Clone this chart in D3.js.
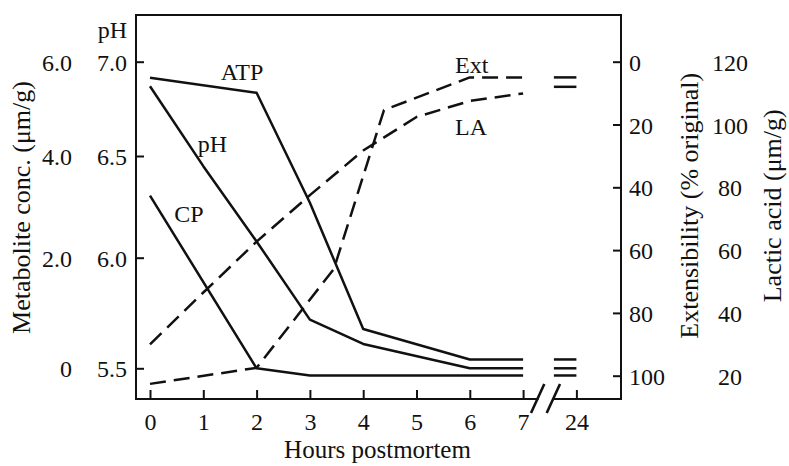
<!DOCTYPE html>
<html>
<head>
<meta charset="utf-8">
<script src="https://cdn.jsdelivr.net/npm/d3@7"></script>
<style>
    body { margin: 0; background: #fff; }
    svg text { font-family: "Liberation Serif", "DejaVu Serif", serif; fill: #111; }
</style>
</head>
<body>
<svg id="chart" width="789" height="466"></svg>
<script>
/*
    Postmortem changes in muscle: metabolites, pH, extensibility, lactic acid
 */

// x axis: 0..7 hours, then a break and 24
const hourTicks = [0, 1, 2, 3, 4, 5, 6, 7, 24];

const phTicks = [5.5, 6.0, 6.5, 7.0];
const metTicks = [0, 2, 4, 6];
const extTicks = [0, 20, 40, 60, 80, 100];
const laTicks = [20, 40, 60, 80, 100, 120];

// [hour, value]
const atp = [[0, 5.66], [2, 5.34], [3, 3.08], [4, 0.71], [6, 0.16], [7, 0.16], [24, 0.16]];
const ph = [[0, 6.87], [1, 6.45], [2, 6.08], [3, 5.72], [4, 5.61], [6, 5.50], [7, 5.50], [24, 5.50]];
const cp = [[0, 3.22], [2, 0.0], [3, -0.13], [7, -0.13], [24, -0.13]];
const ext = [[0, 102.6], [2, 97.5], [3.45, 66], [4.39, 15.4], [6, 5.0], [7, 5.0], [24, 5.0]];
const la = [[0, 30.0], [1, 46.5], [2, 62.7], [3, 77.5], [4, 91.7], [5, 102.4], [6, 107.5], [7, 109.9], [24, 112.0]];

const svg = d3.select("#chart");
const frame = {left: 136, right: 621, top: 15, bottom: 399};

// 24 h is drawn one step after 7
let x = d3.scaleLinear().domain([0, 8]).range([150, 576.4]);
let xPos = (h) => h > 7 ? x(8) : x(h);

// the left axis of the original is not evenly spaced, so keep its tick positions
let tickRows = [368.3, 257.7, 156, 61.7];
let phY = d3.scaleLinear().domain(phTicks).range(tickRows);
let metY = d3.scaleLinear().domain(metTicks).range(tickRows);
let extY = d3.scaleLinear().domain([0, 100]).range([61.7, 375.7]);
let laY = d3.scaleLinear().domain([20, 120]).range([375.7, 61.7]);

function styleAxis(g, size) {
    g.select(".domain").remove();
    g.selectAll("line").attr("stroke", "#111").attr("stroke-width", 2);
    g.selectAll("text").attr("font-size", size).attr("fill", "#111")
        .style("font-family", "'Liberation Serif', serif");
}

// left: pH with inward ticks, metabolite labels further out
svg.append("g").attr("transform", `translate(${frame.left},0)`)
    .call(d3.axisLeft(phY).tickValues(phTicks).tickSizeInner(-8).tickSizeOuter(0)
        .tickPadding(9).tickFormat(d3.format(".1f")))
    .call(g => styleAxis(g, 24))
    .selectAll("text").attr("dy", "0.36em");

svg.append("g").attr("transform", `translate(${frame.left},0)`)
    .call(d3.axisLeft(metY).tickValues(metTicks).tickSize(0).tickPadding(64)
        .tickFormat(d => d === 0 ? "0" : d3.format(".1f")(d)))
    .call(g => styleAxis(g, 24))
    .selectAll("text").attr("dy", "0.36em");

// right: extensibility with inward ticks, lactic acid further out
svg.append("g").attr("transform", `translate(${frame.right},0)`)
    .call(d3.axisRight(extY).tickValues(extTicks).tickSizeInner(-8).tickSizeOuter(0).tickPadding(8))
    .call(g => styleAxis(g, 24))
    .selectAll("text").attr("dy", "0.36em");

svg.append("g").attr("transform", `translate(${frame.right},0)`)
    .call(d3.axisRight(laY).tickValues(laTicks).tickSize(0).tickPadding(109))
    .call(g => styleAxis(g, 24))
    .selectAll("text").attr("dy", "0.36em").attr("text-anchor", "middle");

// bottom
svg.append("g").attr("transform", `translate(0,${frame.bottom})`)
    .call(d3.axisBottom(x).tickValues(d3.range(hourTicks.length)).tickSizeInner(-9).tickSizeOuter(0)
        .tickPadding(14).tickFormat((d, i) => hourTicks[i]))
    .call(g => styleAxis(g, 24));

// frame box
svg.append("rect")
    .attr("x", frame.left).attr("y", frame.top)
    .attr("width", frame.right - frame.left).attr("height", frame.bottom - frame.top)
    .attr("fill", "none").attr("stroke", "#111").attr("stroke-width", 2);

// axis break between 7 and 24
svg.append("line")
    .attr("x1", 538.5).attr("x2", 552.5).attr("y1", frame.bottom).attr("y2", frame.bottom)
    .attr("stroke", "#fff").attr("stroke-width", 4);
[531, 546.7].forEach((bx) => {
    svg.append("line")
        .attr("x1", bx).attr("y1", 413).attr("x2", bx + 13.3).attr("y2", 384)
        .attr("stroke", "#111").attr("stroke-width", 2.6);
});

function drawSeries(data, yScale, dashed) {
    let line = d3.line().x(d => xPos(d[0])).y(d => yScale(d[1]));
    let early = data.filter(d => d[0] <= 7);
    svg.append("path").datum(early)
        .attr("d", line)
        .attr("fill", "none").attr("stroke", "#111").attr("stroke-width", 2.5)
        .attr("stroke-linejoin", "round")
        .attr("stroke-dasharray", dashed ? "16,8" : null);
    // short mark at 24 h
    let last = data.find(d => d[0] === 24);
    svg.append("line")
        .attr("x1", xPos(24) - 22.5).attr("x2", xPos(24))
        .attr("y1", yScale(last[1])).attr("y2", yScale(last[1]))
        .attr("stroke", "#111").attr("stroke-width", 2.5);
}

drawSeries(atp, metY, false);
drawSeries(ph, phY, false);
drawSeries(cp, metY, false);
drawSeries(ext, extY, true);
drawSeries(la, laY, true);

// series labels
let labels = [
    {text: "ATP", x: 242, y: 80, anchor: "middle"},
    {text: "pH", x: 212.5, y: 152, anchor: "middle"},
    {text: "CP", x: 189, y: 221.5, anchor: "middle"},
    {text: "Ext", x: 455, y: 73, anchor: "start"},
    {text: "LA", x: 455, y: 135, anchor: "start"}
];
svg.selectAll(".series-label").data(labels).enter().append("text")
    .attr("class", "series-label")
    .attr("x", d => d.x).attr("y", d => d.y)
    .attr("text-anchor", d => d.anchor)
    .attr("font-size", 24)
    .text(d => d.text);

svg.append("text").attr("x", 127).attr("y", 38).attr("text-anchor", "end")
    .attr("font-size", 24).text("pH");

// axis titles
svg.append("text").attr("x", 377.5).attr("y", 458).attr("text-anchor", "middle")
    .attr("font-size", 25).text("Hours postmortem");
svg.append("text").attr("transform", "translate(30,207.5) rotate(-90)").attr("text-anchor", "middle")
    .attr("font-size", 26).text("Metabolite conc. (μm/g)");
svg.append("text").attr("transform", "translate(698,205.8) rotate(-90)").attr("text-anchor", "middle")
    .attr("font-size", 26).text("Extensibility (% original)");
svg.append("text").attr("transform", "translate(781,205.8) rotate(-90)").attr("text-anchor", "middle")
    .attr("font-size", 26).text("Lactic acid (μm/g)");
</script>
</body>
</html>
